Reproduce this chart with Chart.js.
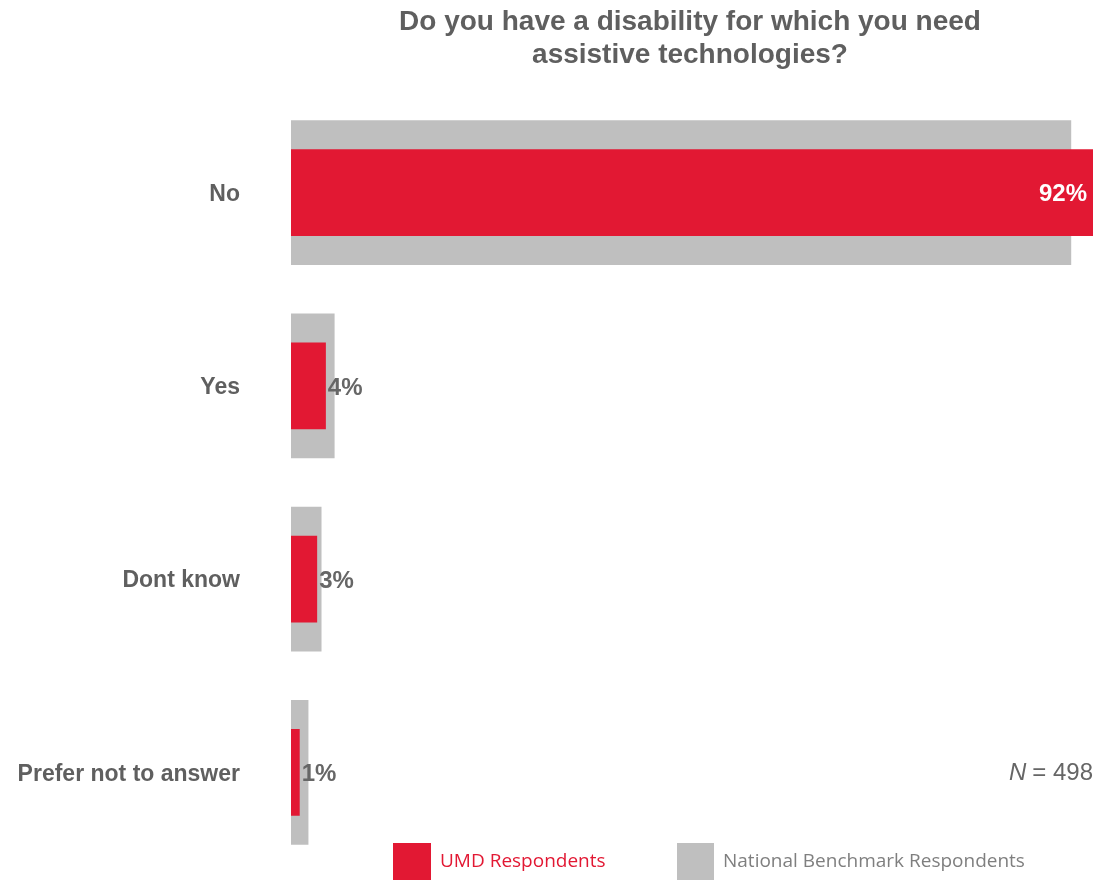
<!DOCTYPE html>
<html>
<head>
<meta charset="utf-8">
<title>Assistive technologies</title>
<script src="https://cdn.jsdelivr.net/npm/chart.js@4"></script>
<style>
  html, body { margin: 0; padding: 0; background: #fff; }
  #wrap { position: relative; width: 1099px; height: 882px; }
</style>
</head>
<body>
<div id="wrap"><canvas id="disabilityChart" width="1099" height="882"></canvas></div>
<script>
const categories = ["No", "Yes", "Dont know", "Prefer not to answer"];
const umdValues = [92, 4, 3, 1];
const nationalValues = [89.5, 5, 3.5, 2];
const titleLines = ["Do you have a disability for which you need", "assistive technologies?"];
const seriesNames = ["UMD Respondents", "National Benchmark Respondents"];
const sampleSize = 498;

const red = "#e21833";
const grey = "#bfbfbf";
const textGrey = "#5f5f5f";

// title, category names, percent labels, legend and N note drawn on the canvas
const extras = {
  id: "extras",
  afterDraw(chart) {
    const ctx = chart.ctx;
    ctx.save();
    ctx.textBaseline = "middle";

    // title
    ctx.fillStyle = textGrey;
    ctx.font = "bold 28px Arial, 'Liberation Sans'";
    ctx.textAlign = "center";
    titleLines.forEach((line, i) => ctx.fillText(line, 690, 22 + i * 33));

    // category names, right aligned against the bars
    const yScale = chart.scales.y;
    ctx.font = "bold 23px Arial, 'Liberation Sans'";
    ctx.textAlign = "right";
    categories.forEach((cat, i) => {
      ctx.fillText(cat, 240, yScale.getPixelForValue(i) + 2);
    });

    // percent labels on the UMD bars
    ctx.font = "bold 24px Arial, 'Liberation Sans'";
    const meta = chart.getDatasetMeta(0);
    meta.data.forEach((bar, i) => {
      const txt = umdValues[i] + "%";
      if (bar.x - bar.base > 60) {
        ctx.fillStyle = "#ffffff";
        ctx.textAlign = "right";
        ctx.fillText(txt, bar.x - 6, bar.y + 2);
      } else {
        ctx.fillStyle = "#666666";
        ctx.textAlign = "left";
        ctx.fillText(txt, bar.x + 2, bar.y + 2);
      }
    });

    // N note
    ctx.textAlign = "right";
    ctx.fillStyle = "#666666";
    ctx.font = "24px Arial, 'Liberation Sans'";
    const num = "= " + sampleSize;
    ctx.fillText(num, 1093, 773);
    const w = ctx.measureText(num).width;
    ctx.font = "italic 24px Arial, 'Liberation Sans'";
    ctx.fillText("N", 1093 - w - 6, 773);

    // legend
    ctx.textAlign = "left";
    ctx.font = "19px 'Open Sans', 'Noto Sans'";
    ctx.fillStyle = red;
    ctx.fillRect(393, 843, 38, 37);
    ctx.fillText(seriesNames[0], 440, 862);
    ctx.fillStyle = grey;
    ctx.fillRect(677, 843, 37, 37);
    ctx.fillStyle = "#7f7f7f";
    ctx.fillText(seriesNames[1], 723, 862);

    ctx.restore();
  }
};

new Chart("disabilityChart", {
  type: "bar",
  data: {
    labels: categories,
    datasets: [
      {
        label: seriesNames[0],
        data: umdValues,
        backgroundColor: red,
        barPercentage: 0.45,
        categoryPercentage: 1,
        grouped: false
      },
      {
        label: seriesNames[1],
        data: nationalValues,
        backgroundColor: grey,
        barPercentage: 0.75,
        categoryPercentage: 1,
        grouped: false
      }
    ]
  },
  options: {
    indexAxis: "y",
    responsive: false,
    animation: false,
    layout: { padding: { top: 96, bottom: 13, right: 6, left: 0 } },
    plugins: {
      legend: { display: false },
      title: { display: false },
      tooltip: { enabled: false }
    },
    scales: {
      x: { display: false, min: 0, max: 92 },
      y: {
        border: { display: false },
        grid: { display: false, drawTicks: false },
        ticks: { display: false },
        afterFit(scale) { scale.width = 291; }
      }
    }
  },
  plugins: [extras]
});
</script>
</body>
</html>
